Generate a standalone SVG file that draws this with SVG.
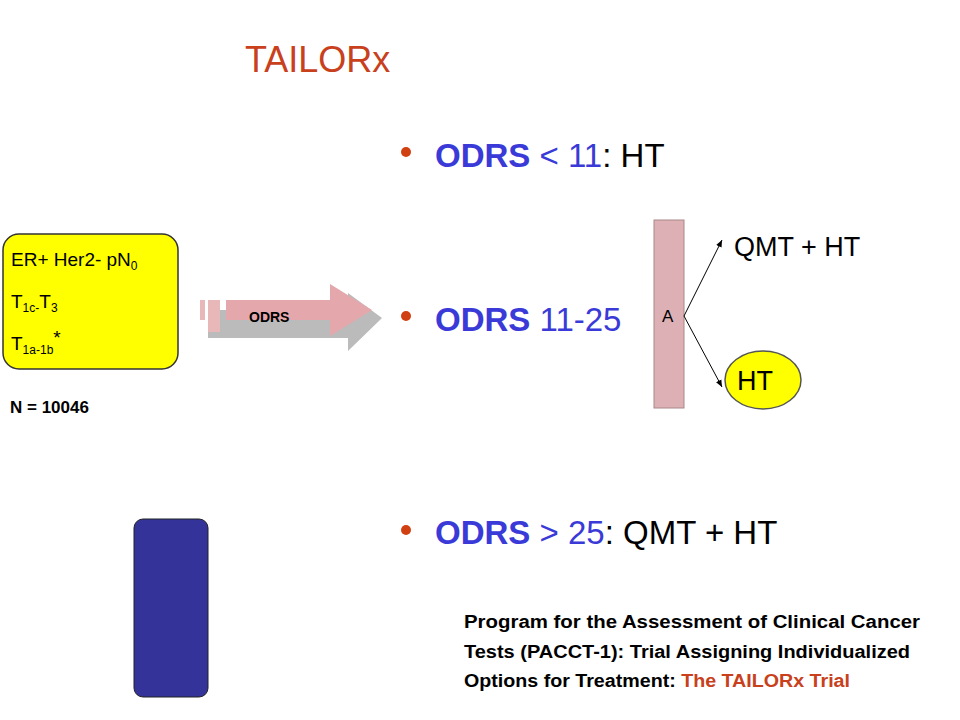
<svg xmlns="http://www.w3.org/2000/svg" width="960" height="720" viewBox="0 0 960 720">
<style>
.s{font-family:"Liberation Sans",Arial,sans-serif}
.c{font-family:"Liberation Sans",Arial,sans-serif;font-weight:bold}
.o{font-weight:bold;fill:#3a3ad8}
.b{fill:#3a3ad8;font-size:33px}
.dot{fill:#d04010}
</style>
<defs><marker id="ar" markerWidth="8" markerHeight="8" refX="7" refY="4" orient="auto"><path d="M0,1 L7,4 L0,7 z" fill="#000"/></marker></defs>
<rect width="960" height="720" fill="#fff"/>
<text class="s" x="245" y="72" font-size="36" fill="#c8401c">TAILORx</text>
<g id="box">
<rect x="3" y="234" width="175" height="135" rx="16" fill="#ffff00" stroke="#333" stroke-width="1.5"/>
<text class="s" x="11" y="266" font-size="19">ER+ Her2- pN<tspan font-size="12" dy="4">0</tspan></text>
<text class="s" x="11" y="308" font-size="19">T<tspan font-size="12" dy="4">1c-</tspan><tspan dy="-4">T</tspan><tspan font-size="12" dy="4">3</tspan></text>
<text class="s" x="11" y="350" font-size="19">T<tspan font-size="12" dy="4">1a-1b</tspan><tspan dy="-10">*</tspan></text>
</g>
<text class="s" x="10" y="413" font-size="17" font-weight="bold">N = 10046</text>
<g id="arrow">
<path d="M208,310 H348 V293 L382,318 L348,351 V338 H208 z" fill="#bbb"/>
<rect x="200" y="300" width="5" height="20" fill="#e8b8b8"/>
<rect x="208" y="300" width="12" height="32" fill="#e8b8b8"/>
<path d="M226,300 H330 V284 L372,310 L330,336 V320 H226 z" fill="#e4a8ac"/>
<text class="c" x="249" y="322" font-size="14">ODRS</text>
</g>
<g id="b1"><circle class="dot" cx="406" cy="152" r="5"/><text class="s b" x="435" y="167"><tspan class="o">ODRS</tspan> &lt; 11<tspan fill="#000">: HT</tspan></text></g>
<g id="b2"><circle class="dot" cx="406" cy="316" r="5"/><text class="s b" x="435" y="331"><tspan class="o">ODRS</tspan> 11-25</text></g>
<g id="b3"><circle class="dot" cx="406" cy="530" r="5"/><text class="s b" x="435" y="544"><tspan class="o">ODRS</tspan> &gt; 25<tspan fill="#000">: QMT + HT</tspan></text></g>
<g id="rand"><rect x="654" y="220" width="30" height="188" fill="#dcb0b4" stroke="#a88" stroke-width="1"/>
<text class="s" x="662" y="322" font-size="17">A</text></g>
<g id="conn" stroke="#000" stroke-width="1" fill="none">
<line x1="684" y1="316" x2="722" y2="240" marker-end="url(#ar)"/>
<line x1="684" y1="316" x2="722" y2="387" marker-end="url(#ar)"/>
</g>
<text class="s" x="734" y="256" font-size="27">QMT + HT</text>
<g id="ht"><ellipse cx="763" cy="380" rx="38" ry="29" fill="#ffff00" stroke="#555" stroke-width="1.5"/>
<text class="s" x="755" y="390" font-size="27" text-anchor="middle">HT</text></g>
<rect x="134" y="519" width="74" height="178" rx="9" fill="#333399" stroke="#222"/>
<g class="c" font-size="18">
<text x="464" y="628" textLength="456" lengthAdjust="spacingAndGlyphs">Program for the Assessment of Clinical Cancer</text>
<text x="464" y="658" textLength="446" lengthAdjust="spacingAndGlyphs">Tests (PACCT-1): Trial Assigning Individualized</text>
<text x="464" y="687" textLength="386" lengthAdjust="spacingAndGlyphs">Options for Treatment: <tspan fill="#c8401c">The TAILORx Trial</tspan></text>
</g>
</svg>
